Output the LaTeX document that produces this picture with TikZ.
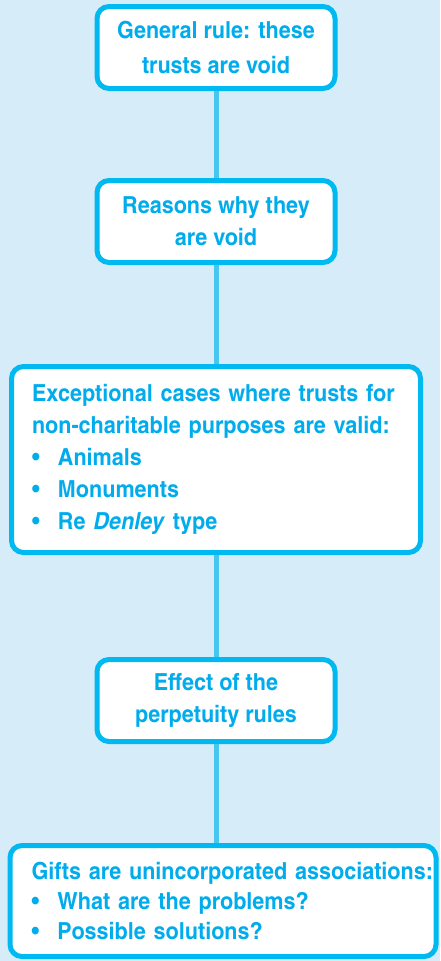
\documentclass[tikz,border=0pt]{standalone}
\usepackage{fontspec}
\setmainfont[FakeStretch=1.12]{TeX Gyre Heros Cn}
\usepackage{tikz}
\usetikzlibrary{positioning}
\definecolor{backblue}{RGB}{214,236,249}
\definecolor{edgeblue}{RGB}{0,185,241}
\definecolor{textblue}{RGB}{0,172,236}
\definecolor{lineblue}{RGB}{72,198,240}
\newcommand{\bul}{\makebox[26pt][l]{\textbullet}}

\begin{document}
\begin{tikzpicture}[x=1pt,y=1pt,
		box/.style={draw=edgeblue,fill=white,line width=5pt,rounded corners=12pt,
			text=textblue,font=\fontsize{23.5}{32}\selectfont\bfseries,
			minimum width=238pt,minimum height=82pt,align=center,inner sep=0pt},
		listbox/.style={box,align=left},
		link/.style={draw=lineblue,line width=5pt}]
				\fill[backblue] (0,0) rectangle (440,-961);
				\useasboundingbox (0,0) rectangle (440,-961);
				\node[box,font=\fontsize{23.5}{35}\selectfont\bfseries] (b1) at (216,-47.5) {General rule: these\\ trusts are void};
				\node[box,below=87pt of b1] (b2) {Reasons why they\\ are void};
				\node[listbox,below=99pt of b2,minimum width=409pt,minimum height=186pt,text width=368pt] (b3)
					{Exceptional cases where trusts for\\ non-charitable purposes are valid:\\ \bul Animals\\ \bul Monuments\\ \bul Re \textit{Denley} type};
				\node[box,below=102pt of b3] (b4) {Effect of the\\ perpetuity rules};
				\node[listbox,below=99pt of b4,xshift=7pt,minimum width=426pt,minimum height=111pt,text width=383pt,
					font=\fontsize{23.5}{30}\selectfont\bfseries] (b5)
					{\mbox{Gifts are unincorporated associations:}\\ \bul What are the problems?\\ \bul Possible solutions?};
				\draw[link] (b1) -- (b2)
					  (b2) -- (b3)
					  (b3) -- (b4)
					  (b4) -- (b4 |- b5.north);
			\end{tikzpicture}
\end{document}
